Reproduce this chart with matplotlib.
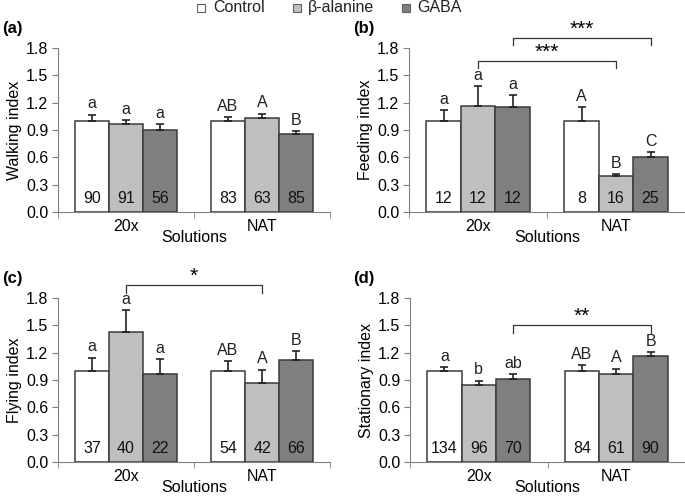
import numpy as np
import matplotlib.pyplot as plt
from matplotlib.patches import Rectangle

plt.rcParams['font.family'] = ['Liberation Sans', 'DejaVu Sans']
plt.rcParams['font.size'] = 11.5

solutions = ['20x', 'NAT']
treatments = ['Control', 'β-alanine', 'GABA']
colors = ['#ffffff', '#bfbfbf', '#7f7f7f']

# values per treatment: [20x, NAT]
walk_mean = [[1.00, 1.00], [0.965, 1.03], [0.905, 0.855]]
walk_err = [[0.07, 0.045], [0.04, 0.05], [0.06, 0.035]]
walk_n = [[90, 83], [91, 63], [56, 85]]
walk_let = [['a', 'AB'], ['a', 'A'], ['a', 'B']]

feed_mean = [[1.00, 1.00], [1.165, 0.39], [1.15, 0.60]]
feed_err = [[0.12, 0.15], [0.215, 0.03], [0.13, 0.055]]
feed_n = [[12, 8], [12, 16], [12, 25]]
feed_let = [['a', 'A'], ['a', 'B'], ['a', 'C']]

fly_mean = [[1.00, 1.00], [1.425, 0.865], [0.963, 1.116]]
fly_err = [[0.145, 0.11], [0.245, 0.15], [0.17, 0.105]]
fly_n = [[37, 54], [40, 42], [22, 66]]
fly_let = [['a', 'AB'], ['a', 'A'], ['a', 'B']]

stat_mean = [[1.00, 1.00], [0.85, 0.965], [0.908, 1.16]]
stat_err = [[0.04, 0.06], [0.044, 0.06], [0.055, 0.05]]
stat_n = [[134, 84], [96, 61], [70, 90]]
stat_let = [['a', 'AB'], ['b', 'A'], ['ab', 'B']]

# brackets: (x_left, x_right, y, stars)
feed_brackets = [(0.0, 1.0, 1.66, '***'), (0.25, 1.25, 1.91, '***')]
fly_brackets = [(0.0, 1.0, 1.94, '*')]
stat_brackets = [(0.25, 1.25, 1.50, '**')]

W, H = 685, 497
fig = plt.figure(figsize=(W / 100, H / 100), dpi=100)

def panel(rect, means, errs, ns, lets, ylabel, tag, tagpos, brackets, xright):
    ax = fig.add_axes(rect)
    x = np.arange(len(solutions))
    width = 0.25
    for i in range(3):
        xi = x + (i - 1) * width
        ax.bar(xi, means[i], width, color=colors[i], edgecolor='#3a3a3a', linewidth=1.1, zorder=2)
        ax.errorbar(xi, means[i], yerr=[[0, 0], errs[i]], fmt='none', ecolor='#222222',
                    elinewidth=1.2, capsize=3, capthick=1.2, zorder=3)
        for j in range(len(solutions)):
            ax.text(xi[j], means[i][j] + errs[i][j] + 0.035, lets[i][j], ha='center', va='bottom',
                    color='#222222')
            ax.text(xi[j], 0.145, str(ns[i][j]), ha='center', va='center',
                    color='#111111', zorder=4)
    for x0, x1, yb, st in brackets:
        ax.plot([x0, x0, x1, x1], [yb - 0.08, yb, yb, yb - 0.08], color='#333333', lw=0.9,
                clip_on=False)
        ax.text((x0 + x1) / 2, yb - 0.01, st, ha='center', va='bottom', fontsize=15,
                clip_on=False)
    ax.set_xlim(-0.5, xright)
    ax.set_ylim(0, 1.8)
    ax.set_yticks(np.arange(0, 1.81, 0.3))
    ax.set_yticklabels([f'{v:.1f}' for v in np.arange(0, 1.81, 0.3)])
    ax.set_xticks(x)
    ax.set_xticklabels(solutions)
    ax.set_xticks([-0.5, 0.5, 1.5], minor=True)
    ax.tick_params(axis='x', which='major', length=0, pad=5)
    ax.tick_params(axis='x', which='minor', length=4, color='#808080')
    ax.tick_params(axis='y', length=4, color='#808080', pad=3)
    for s in ['top', 'right']:
        ax.spines[s].set_visible(False)
    for s in ['left', 'bottom']:
        ax.spines[s].set_color('#808080')
    ax.set_ylabel(ylabel, labelpad=3)
    ax.set_xlabel('Solutions', labelpad=-2.5)
    fig.text(tagpos[0] / W, 1 - tagpos[1] / H, tag, fontweight='bold', ha='left', va='center',
             fontsize=12)
    return ax

aw = 272 / W
ah = 164 / H
panel([58 / W, 285 / H, aw, ah], walk_mean, walk_err, walk_n, walk_let, 'Walking index',
      '(a)', (2, 28), [], 1.5)
panel([409 / W, 285 / H, 276 / W, ah], feed_mean, feed_err, feed_n, feed_let, 'Feeding index',
      '(b)', (353, 28), feed_brackets, 1.486)
panel([58 / W, 35 / H, aw, ah], fly_mean, fly_err, fly_n, fly_let, 'Flying index',
      '(c)', (2, 279), fly_brackets, 1.5)
panel([410 / W, 35 / H, 275 / W, ah], stat_mean, stat_err, stat_n, stat_let, 'Stationary index',
      '(d)', (353, 279), stat_brackets, 1.48)

# legend row at the top, drawn by hand to match spacing
leg_sq = [197, 293, 402]
leg_tx = [213, 308, 417]
for c, lab, sx, tx in zip(colors, treatments, leg_sq, leg_tx):
    fig.add_artist(Rectangle((sx / W, 1 - 11.5 / H), 8 / W, 8 / H, transform=fig.transFigure,
                             facecolor=c, edgecolor='#606060', linewidth=0.8))
    fig.text(tx / W, 1 - 7.5 / H, lab, ha='left', va='center', fontsize=11.5, color='#222222')

fig.savefig('out.png', dpi=100)
